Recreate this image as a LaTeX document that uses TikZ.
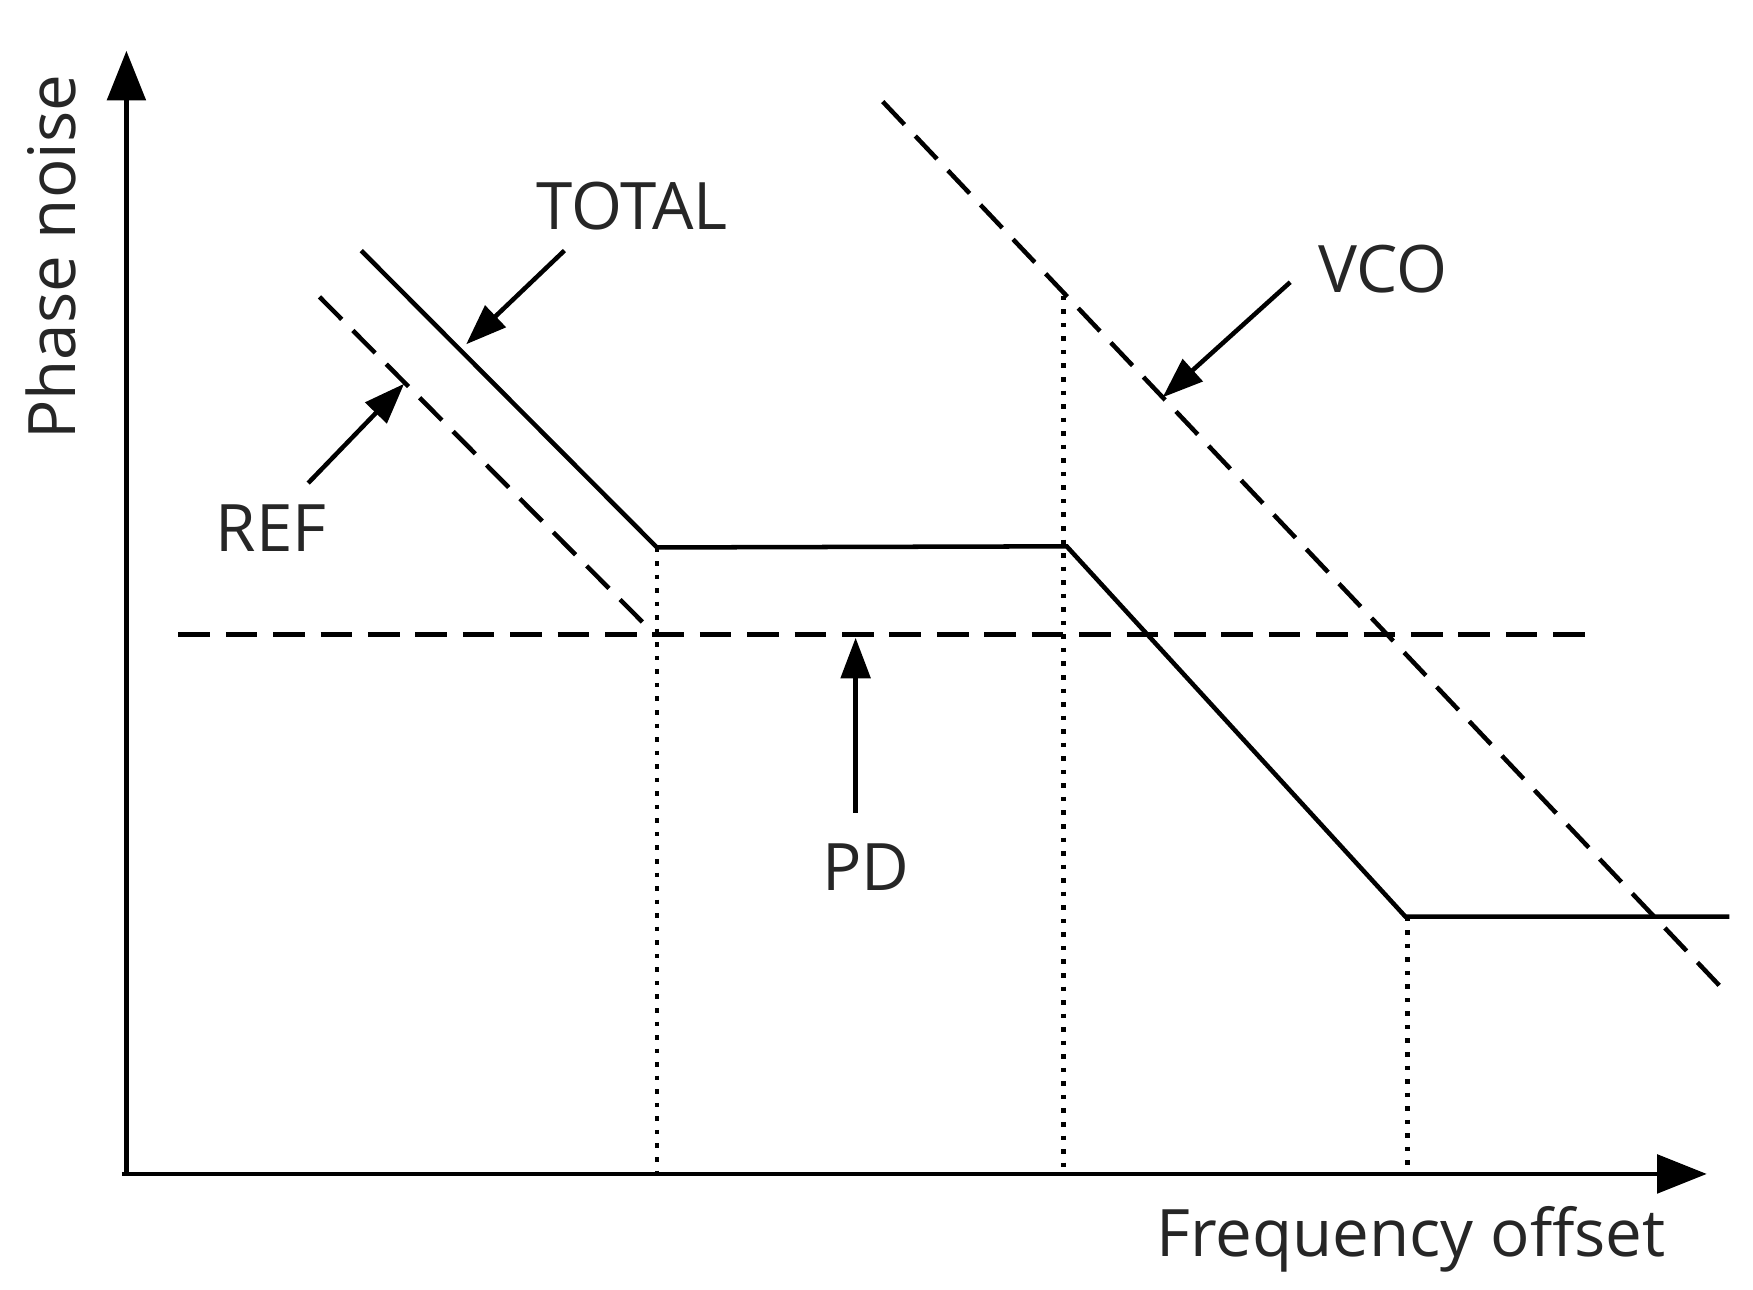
\documentclass[tikz,border=0pt]{standalone}
\usepackage{fontspec}
\setmainfont{Open Sans}
\usetikzlibrary{arrows.meta}
\begin{document}
\begin{tikzpicture}[x=1pt,y=-1pt,line width=4pt,
  lbl/.style={font=\fontsize{58}{64}\selectfont, text=black!85},
  ptr/.style={-{Triangle[length=36pt,width=26pt]}},
  axis/.style={-{Triangle[length=44pt,width=34pt]}},
  dsh/.style={dash pattern=on 28pt off 14pt},
  dts/.style={line width=4pt,dash pattern=on 4pt off 8pt}]
\useasboundingbox (0,0) rectangle (1553,1142);
\coordinate (O) at (112,1040);
\coordinate (Ytop) at (112,45);
\coordinate (Xend) at (1512,1040);
\draw[axis] (108,1040) -- (Xend);
\draw[axis] (O) -- (Ytop);
\node[lbl,rotate=90] (yl) at (45,228) {Phase noise};
\node[lbl] (xl) at (1250,1098) {Frequency offset};
% total
\coordinate (t1) at (320,222); \coordinate (t2) at (582,485);
\coordinate (t3) at (945,484); \coordinate (t4) at (1245,812);
\coordinate (t5) at (1532,812);
\draw[line join=miter] (t1) -- (t2) -- (t3) -- (t4) -- (t5);
% ref
\coordinate (r1) at (283,263); \coordinate (r2) at (580,562);
\draw[dsh] (r1) -- (r2);
% pd
\coordinate (p1) at (158,562); \coordinate (p2) at (1405,562);
\draw[dsh] (p1) -- (p2);
% vco
\coordinate (v1) at (782,90); \coordinate (v2) at (1525,875);
\draw[dsh] (v1) -- (v2);
% dotted
\coordinate (d1) at (582,1040); \coordinate (d2) at (942,262); \coordinate (d2b) at (942,1040);
\coordinate (d3) at (1247,812); \coordinate (d3b) at (1247,1040);
\draw[dts] (t2) -- (d1);
\draw[dts] (d2) -- (d2b);
\draw[dts] (d3) -- (d3b);
% labels
\node[lbl] (tot) at (560,183) {TOTAL};
\coordinate (ta) at (500,222); \coordinate (tb) at (413,305);
\draw[ptr] (ta) -- (tb);
\node[lbl] (vco) at (1225,238) {VCO};
\coordinate (va) at (1143,250); \coordinate (vb) at (1030,352);
\draw[ptr] (va) -- (vb);
\node[lbl] (ref) at (240,468) {REF};
\coordinate (ra) at (273,428); \coordinate (rb) at (358,340);
\draw[ptr] (ra) -- (rb);
\node[lbl] (pd) at (767,768) {PD};
\coordinate (pa) at (758,720); \coordinate (pb) at (758,565);
\draw[ptr] (pa) -- (pb);
\end{tikzpicture}
\end{document}
